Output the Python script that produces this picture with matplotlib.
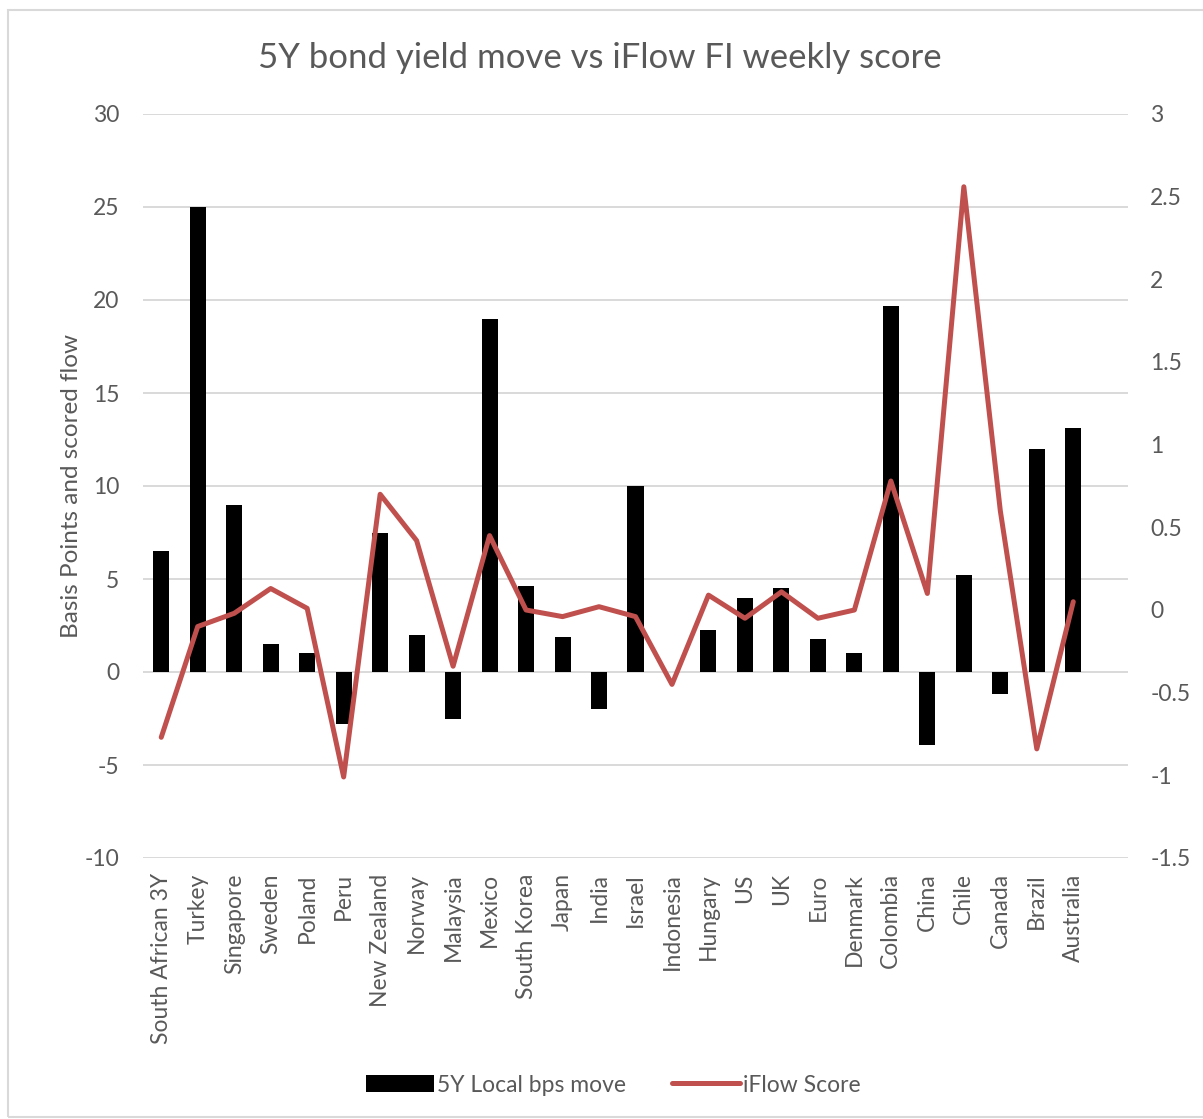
import matplotlib
matplotlib.use('Agg')
import matplotlib.pyplot as plt
import numpy as np
from matplotlib.patches import Rectangle

plt.rcParams['font.family'] = ['Lato', 'DejaVu Sans']
plt.rcParams['axes.unicode_minus'] = False

countries = ['South African 3Y', 'Turkey', 'Singapore', 'Sweden', 'Poland', 'Peru',
             'New Zealand', 'Norway', 'Malaysia', 'Mexico', 'South Korea', 'Japan',
             'India', 'Israel', 'Indonesia', 'Hungary', 'US', 'UK', 'Euro', 'Denmark',
             'Colombia', 'China', 'Chile', 'Canada', 'Brazil', 'Australia']
bps_move = [6.5, 25.0, 9.0, 1.5, 1.0, -2.8, 7.5, 2.0, -2.5, 19.0, 4.6, 1.9,
            -2.0, 10.0, 0.0, 2.25, 4.0, 4.5, 1.8, 1.0, 19.7, -3.9, 5.2, -1.2, 12.0, 13.1]
iflow_score = [-0.77, -0.10, -0.02, 0.13, 0.01, -1.01, 0.70, 0.42, -0.34, 0.45, 0.0, -0.04,
               0.02, -0.04, -0.45, 0.09, -0.05, 0.11, -0.05, 0.0, 0.78, 0.10, 2.56, 0.60,
               -0.84, 0.05]

grey = '#595959'
red = '#C0504D'

fig = plt.figure(figsize=(12.03, 11.19), dpi=100)
ax = fig.add_axes([143/1203, 1 - 858/1119, (1128-143)/1203, (858-114)/1119])
ax2 = ax.twinx()

x = np.arange(len(countries))
ax.bar(x, bps_move, width=0.44, color='black', zorder=3, label='5Y Local bps move')
ax2.plot(x, iflow_score, color=red, lw=3.6, solid_joinstyle='round', solid_capstyle='round',
         label='iFlow Score', zorder=4)

# one empty category slot after Australia, as in the source chart
ax.set_xlim(-0.5, len(countries) + 0.5)
ax.set_ylim(-10, 30)
ax.set_yticks(np.arange(-10, 31, 5))
ax2.set_ylim(-1.5, 3)
ax2.set_yticks([-1.5, -1, -0.5, 0, 0.5, 1, 1.5, 2, 2.5, 3])
ax2.set_yticklabels(['-1.5', '-1', '-0.5', '0', '0.5', '1', '1.5', '2', '2.5', '3'])

ax.grid(axis='y', color='#d9d9d9', lw=1.4, zorder=0)
for a in (ax, ax2):
    for s in a.spines.values():
        s.set_visible(False)
    a.tick_params(length=0, colors=grey, labelsize=16.5)
ax.tick_params(axis='y', pad=17)
ax2.tick_params(axis='y', pad=16)

ax.set_xticks(x)
ax.set_xticklabels(countries, rotation=90, fontsize=16.5, color=grey)
ax.tick_params(axis='x', pad=11)
ax.set_ylabel('Basis Points and scored flow', fontsize=17.5, color=grey, labelpad=2)

ax2.patch.set_visible(False)

fig.text(600/1203, 1 - 58/1119, '5Y bond yield move vs iFlow FI weekly score',
         ha='center', va='center', fontsize=25, color=grey)

h1, l1 = ax.get_legend_handles_labels()
h2, l2 = ax2.get_legend_handles_labels()
leg = fig.legend(h1 + h2, l1 + l2, loc='center', bbox_to_anchor=(613/1203, 1 - 1085/1119),
                 ncol=2, frameon=False, fontsize=16.5, handlelength=3.0, handletextpad=0.1,
                 columnspacing=2.0, handleheight=0.8)
for t in leg.get_texts():
    t.set_color(grey)

fig.patches.append(Rectangle((8/1203, 0.002), 1.2, 1 - 10/1119 - 0.002, transform=fig.transFigure,
                             fill=False, edgecolor='#d9d9d9', lw=1.5))

fig.savefig('out.png', dpi=100)
